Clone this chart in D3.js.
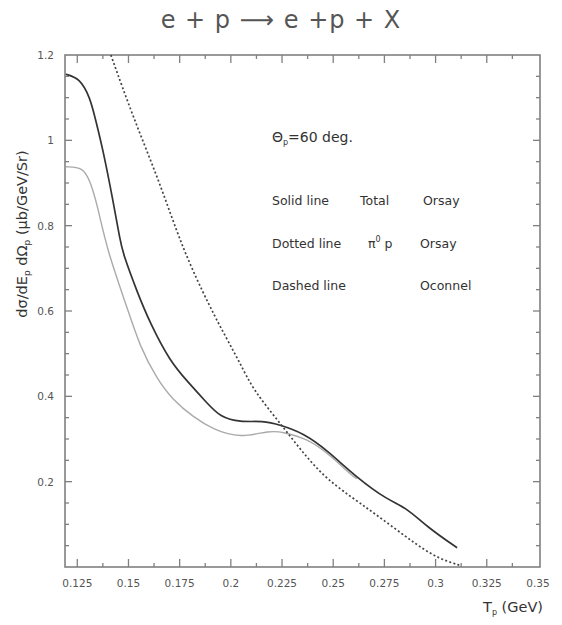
<!DOCTYPE html>
<html>
<head>
<meta charset="utf-8">
<script src="https://cdn.jsdelivr.net/npm/d3@7"></script>
<style>
  body { margin: 0; background: #fff; }
  text { font-family: "DejaVu Sans", "Liberation Sans", sans-serif; }
</style>
</head>
<body>
<div id="chart"></div>
<script>
// T_p (GeV) vs d sigma
var totalOrsay = [
  [0.1194, 1.155], [0.1263, 1.145], [0.1312, 1.1], [0.1336, 1.055],
  [0.1376, 0.977], [0.1424, 0.86], [0.1459, 0.766], [0.1473, 0.735],
  [0.1542, 0.645], [0.1605, 0.572], [0.1703, 0.482], [0.1786, 0.436],
  [0.1884, 0.384], [0.1947, 0.352], [0.2045, 0.339], [0.2157, 0.343],
  [0.224, 0.333], [0.2353, 0.314], [0.247, 0.274], [0.2616, 0.209],
  [0.2763, 0.158], [0.2861, 0.138], [0.2958, 0.094], [0.3105, 0.045]
];
var pi0pOrsay = [
  [0.1194, 0.938], [0.1278, 0.937], [0.1312, 0.905], [0.1346, 0.853],
  [0.1395, 0.743], [0.1493, 0.609], [0.1556, 0.516], [0.164, 0.44],
  [0.1718, 0.391], [0.1815, 0.352], [0.1914, 0.322], [0.2045, 0.302],
  [0.2192, 0.32], [0.2256, 0.316], [0.2372, 0.301], [0.2486, 0.2625],
  [0.2597, 0.211], [0.2616, 0.207]
];
var oconnel = [
  [0.1414, 1.2], [0.1522, 1.055], [0.1654, 0.9], [0.1766, 0.743],
  [0.1898, 0.609], [0.1983, 0.532], [0.2045, 0.478], [0.2109, 0.415],
  [0.224, 0.3375], [0.2353, 0.267], [0.247, 0.204], [0.2631, 0.15],
  [0.2812, 0.0867], [0.2988, 0.0234], [0.3125, 0.003]
];

var xMajor = [0.125, 0.15, 0.175, 0.2, 0.225, 0.25, 0.275, 0.3, 0.325, 0.35];
var xTickLabels = ["0.125", "0.15", "0.175", "0.2", "0.225", "0.25", "0.275", "0.3", "0.325", "0.35"];
var xMinor = [0.1375, 0.1625, 0.1875, 0.2125, 0.2375, 0.2625, 0.2875, 0.3125, 0.3375];
var yMajor = [0.2, 0.4, 0.6, 0.8, 1, 1.2];
var yTickLabels = ["0.2", "0.4", "0.6", "0.8", "1", "1.2"];
var yMinor = [0.05, 0.1, 0.15, 0.25, 0.3, 0.35, 0.45, 0.5, 0.55, 0.65, 0.7, 0.75, 0.85, 0.9, 0.95, 1.05, 1.1, 1.15];

const margin = { top: 55, right: 22, bottom: 58, left: 65 },
  width = 562 - margin.left - margin.right,
  height = 625 - margin.top - margin.bottom;

const svgRoot = d3
  .select("#chart")
  .append("svg")
  .attr("width", 562)
  .attr("height", 625);

const svg = svgRoot
  .append("g")
  .attr("transform", "translate(" + margin.left + "," + margin.top + ")");

var x = d3.scaleLinear().domain([0.119, 0.351]).range([0, width]);
var y = d3.scaleLinear().domain([0, 1.2]).range([height, 0]);

var axisColor = "#808080";
var ticks = svg.append("g").attr("stroke", axisColor).attr("stroke-width", 1.3);

// x ticks, bottom and top, pointing inwards
function xTicks(vals, len) {
  ticks.selectAll(null).data(vals).enter().append("line")
    .attr("x1", function (d) { return x(d); })
    .attr("x2", function (d) { return x(d); })
    .attr("y1", height).attr("y2", height - len);
  ticks.selectAll(null).data(vals).enter().append("line")
    .attr("x1", function (d) { return x(d); })
    .attr("x2", function (d) { return x(d); })
    .attr("y1", 0).attr("y2", len);
}
function yTicks(vals, len) {
  ticks.selectAll(null).data(vals).enter().append("line")
    .attr("y1", function (d) { return y(d); })
    .attr("y2", function (d) { return y(d); })
    .attr("x1", 0).attr("x2", len);
  ticks.selectAll(null).data(vals).enter().append("line")
    .attr("y1", function (d) { return y(d); })
    .attr("y2", function (d) { return y(d); })
    .attr("x1", width).attr("x2", width - len);
}
xTicks(xMajor.filter(function (d) { return d < 0.349; }), 8);
xTicks(xMinor, 4);
yTicks(yMajor.filter(function (d) { return d < 1.19; }), 7);
yTicks(yMinor, 4);

svg.append("g")
  .selectAll("text")
  .data(xMajor)
  .enter()
  .append("text")
  .attr("x", function (d) { return x(d); })
  .attr("y", height + 20)
  .attr("text-anchor", "middle")
  .attr("font-size", 10.5)
  .attr("fill", "#555")
  .text(function (d, i) { return xTickLabels[i]; });

svg.append("g")
  .selectAll("text")
  .data(yMajor)
  .enter()
  .append("text")
  .attr("x", -11)
  .attr("y", function (d) { return y(d) + 4; })
  .attr("text-anchor", "end")
  .attr("font-size", 10.5)
  .attr("fill", "#555")
  .text(function (d, i) { return yTickLabels[i]; });

svg.append("rect")
  .attr("x", 0)
  .attr("y", 0)
  .attr("width", width)
  .attr("height", height)
  .attr("fill", "none")
  .attr("stroke", axisColor)
  .attr("stroke-width", 1.6);

var line = d3.line()
  .x(function (d) { return x(d[0]); })
  .y(function (d) { return y(d[1]); })
  .curve(d3.curveBasis);

svg.append("path")
  .datum(pi0pOrsay)
  .attr("fill", "none")
  .attr("stroke", "#aaa")
  .attr("stroke-width", 1.4)
  .attr("d", line);

svg.append("path")
  .datum(totalOrsay)
  .attr("fill", "none")
  .attr("stroke", "#333")
  .attr("stroke-width", 1.7)
  .attr("d", line);

svg.append("path")
  .datum(oconnel)
  .attr("fill", "none")
  .attr("stroke", "#444")
  .attr("stroke-width", 1.7)
  .attr("stroke-dasharray", "2,2.3")
  .attr("d", line);

// title
svgRoot.append("text")
  .attr("x", 281)
  .attr("y", 28)
  .attr("text-anchor", "middle")
  .attr("font-size", 24)
  .attr("font-family", "'Liberation Sans', sans-serif")
  .attr("letter-spacing", 1)
  .attr("fill", "#555")
  .text("e + p \u27f6 e +p + X");

// annotations
var ann = svg.append("g").attr("fill", "#333").attr("font-size", 12.5);
var t0 = ann.append("text").attr("x", 207).attr("y", 87).attr("font-size", 14);
t0.append("tspan").text("\u0398");
t0.append("tspan").attr("font-size", 8).attr("dy", 3).text("p");
t0.append("tspan").attr("dy", -3).text("=60 deg.");

ann.append("text").attr("x", 207).attr("y", 150).text("Solid line");
ann.append("text").attr("x", 295).attr("y", 150).text("Total");
ann.append("text").attr("x", 358).attr("y", 150).text("Orsay");

ann.append("text").attr("x", 207).attr("y", 193).text("Dotted line");
var t2 = ann.append("text").attr("x", 303).attr("y", 193);
t2.append("tspan").text("\u03c0");
t2.append("tspan").attr("font-size", 8).attr("dy", -6).text("0");
t2.append("tspan").attr("dy", 6).text(" p");
ann.append("text").attr("x", 355).attr("y", 193).text("Orsay");

ann.append("text").attr("x", 207).attr("y", 235).text("Dashed line");
ann.append("text").attr("x", 355).attr("y", 235).text("Oconnel");

// y label
var yl = svgRoot.append("text")
  .attr("transform", "translate(27,234) rotate(-90)")
  .attr("text-anchor", "middle")
  .attr("font-size", 14.5)
  .attr("fill", "#333");
yl.append("tspan").text("d\u03c3/dE");
yl.append("tspan").attr("font-size", 9).attr("dy", 3).text("p");
yl.append("tspan").attr("dy", -3).text(" d\u03a9");
yl.append("tspan").attr("font-size", 9).attr("dy", 3).text("p");
yl.append("tspan").attr("dy", -3).text(" (\u03bcb/GeV/Sr)");

// x label
var xl = svgRoot.append("text")
  .attr("x", 543)
  .attr("y", 612)
  .attr("text-anchor", "end")
  .attr("font-size", 14.5)
  .attr("fill", "#333");
xl.append("tspan").text("T");
xl.append("tspan").attr("font-size", 8).attr("dy", 3).text("p");
xl.append("tspan").attr("dy", -3).text(" (GeV)");
</script>
</body>
</html>
